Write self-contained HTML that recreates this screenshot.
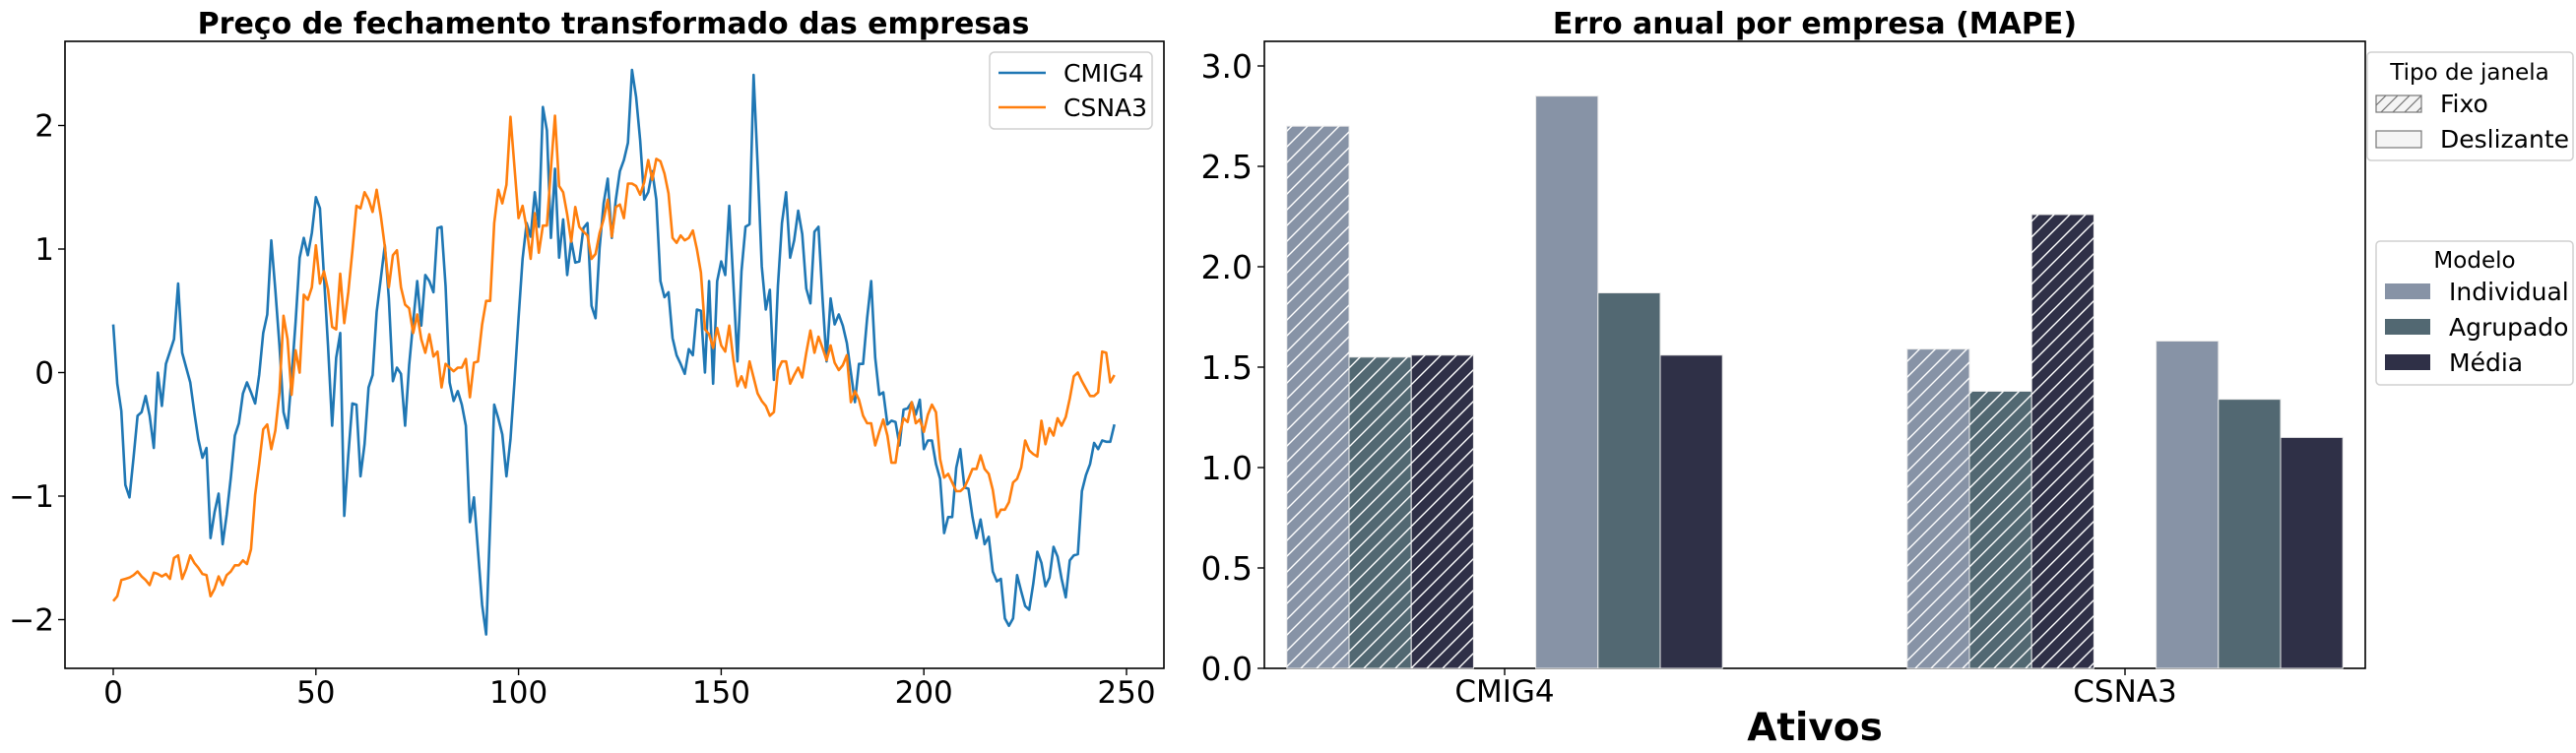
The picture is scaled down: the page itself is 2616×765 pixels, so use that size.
<!DOCTYPE html>
<html><head><meta charset="utf-8"><style>
html,body{margin:0;padding:0;background:#fff;}
svg{display:block;font-family:"DejaVu Sans","Liberation Sans",sans-serif;}
</style></head><body>
<svg id="chart" width="2616" height="765" viewBox="0 0 2616 765" xmlns="http://www.w3.org/2000/svg">
<defs>
<pattern id="hatch" patternUnits="userSpaceOnUse" width="16" height="16">
<path d="M-4,4 L4,-4 M0,16 L16,0 M12,20 L20,12" stroke="#ffffff" stroke-width="1.4"/>
</pattern>
<pattern id="hatchLeg" patternUnits="userSpaceOnUse" width="12" height="12">
<path d="M-3,3 L3,-3 M0,12 L12,0 M9,15 L15,9" stroke="#777" stroke-width="1.2"/>
</pattern>
</defs>
<g id="left"></g>
<g id="right"></g>
</svg>
<script>
const cmig4Values = [0.39,-0.09,-0.31,-0.91,-1.01,-0.69,-0.35,-0.32,-0.19,-0.35,-0.61,0,-0.27,0.07,0.17,0.27,0.72,0.16,0.04,-0.08,-0.32,-0.54,-0.69,-0.61,-1.34,-1.13,-0.98,-1.39,-1.15,-0.85,-0.51,-0.41,-0.17,-0.08,-0.16,-0.25,-0.02,0.32,0.47,1.07,0.67,0.22,-0.32,-0.45,-0.04,0.41,0.93,1.09,0.95,1.13,1.42,1.33,0.78,0.22,-0.43,0.12,0.32,-1.16,-0.67,-0.25,-0.26,-0.84,-0.58,
-0.12,-0.02,0.49,0.76,1.03,0.60,-0.07,0.04,-0.01,-0.43,0.06,0.41,0.74,0.38,0.79,0.74,0.65,1.17,1.18,0.70,-0.08,-0.23,-0.15,-0.26,-0.43,-1.21,-1.01,-1.44,-1.88,-2.12,-1.21,-0.26,-0.37,-0.50,-0.84,-0.54,-0.07,0.44,0.92,1.21,1.10,1.46,1.18,2.15,1.96,1.09,1.65,0.93,1.24,0.79,1.07,0.89,0.90,1.17,1.21,0.54,0.44,1.01,1.37,1.57,1.09,1.40,
1.63,1.72,1.86,2.45,2.23,1.88,1.40,1.46,1.63,1.40,0.74,0.61,0.65,0.28,0.14,0.07,-0.01,0.19,0.14,0.51,0.50,0,0.74,-0.09,0.74,0.90,0.79,1.35,0.73,0.09,0.82,1.18,1.20,2.41,1.68,0.86,0.51,0.67,-0.06,0.70,1.21,1.46,0.93,1.07,1.31,1.12,0.68,0.56,1.14,1.18,0.60,0.09,0.60,0.39,0.47,0.38,0.24,0,-0.24,0.07,0.07,0.44,0.74,
0.12,-0.18,-0.16,-0.42,-0.39,-0.40,-0.59,-0.30,-0.29,-0.24,-0.34,-0.22,-0.62,-0.55,-0.55,-0.74,-0.86,-1.30,-1.17,-1.17,-0.77,-0.62,-0.93,-0.94,-1.17,-1.34,-1.19,-1.39,-1.33,-1.61,-1.69,-1.67,-1.99,-2.05,-1.99,-1.64,-1.77,-1.89,-1.92,-1.71,-1.45,-1.54,-1.73,-1.66,-1.41,-1.49,-1.67,-1.82,-1.52,-1.48,-1.47,-0.96,-0.83,-0.74,-0.57,-0.62,-0.55,-0.56,-0.56,-0.42];
const csna3Values = [-1.85,-1.81,-1.68,-1.67,-1.66,-1.64,-1.61,-1.65,-1.68,-1.72,-1.62,-1.63,-1.65,-1.63,-1.67,-1.50,-1.48,-1.67,-1.59,-1.48,-1.54,-1.58,-1.63,-1.64,-1.81,-1.75,-1.65,-1.72,-1.64,-1.61,-1.56,-1.56,-1.52,-1.55,-1.43,-0.99,-0.74,-0.46,-0.42,-0.62,-0.47,-0.16,0.46,0.27,-0.18,0.18,0,0.63,0.59,0.69,1.03,0.72,0.82,0.67,0.37,0.35,0.80,0.40,0.65,0.98,1.35,1.33,1.46,
1.40,1.30,1.48,1.27,1.02,0.69,0.95,0.99,0.69,0.55,0.52,0.32,0.47,0.27,0.16,0.31,0.13,0.17,-0.12,0.07,0.04,0.01,0.04,0.04,0.11,-0.20,0.08,0.09,0.39,0.58,0.58,1.21,1.48,1.37,1.52,2.07,1.66,1.25,1.35,1.17,0.92,1.29,0.97,1.19,1.19,1.65,2.08,1.51,1.46,1.28,1.06,1.34,1.18,1.14,1.11,0.92,0.96,1.13,1.24,1.40,1.10,1.34,
1.36,1.25,1.53,1.53,1.51,1.44,1.54,1.72,1.56,1.73,1.71,1.61,1.45,1.09,1.05,1.11,1.07,1.09,1.15,1.00,0.81,0.35,0.31,0.20,0.36,0.22,0.17,0.38,0.11,-0.11,-0.03,-0.12,0.09,-0.04,-0.17,-0.23,-0.27,-0.35,-0.32,0.02,0.09,0.09,-0.09,-0.02,0.04,-0.04,0.16,0.34,0.16,0.29,0.20,0.10,0.22,0.08,0.02,0.06,0.14,-0.24,-0.15,-0.22,-0.35,-0.41,-0.41,
-0.59,-0.48,-0.38,-0.51,-0.73,-0.73,-0.50,-0.37,-0.40,-0.24,-0.41,-0.38,-0.48,-0.34,-0.26,-0.32,-0.70,-0.85,-0.82,-0.89,-0.96,-0.96,-0.93,-0.86,-0.78,-0.78,-0.67,-0.78,-0.82,-0.95,-1.17,-1.11,-1.11,-1.05,-0.89,-0.86,-0.77,-0.55,-0.63,-0.66,-0.68,-0.39,-0.58,-0.45,-0.51,-0.37,-0.43,-0.36,-0.21,-0.03,0,-0.07,-0.13,-0.19,-0.19,-0.16,0.17,0.16,-0.08,-0.02];
const leftXTicks = [0,50,100,150,200,250];
const leftYTicks = [-2,-1,0,1,2];
const leftYTickLabels = ["\u22122","\u22121","0","1","2"];
const seriesNames = ["CMIG4","CSNA3"];

const barCategories = ["CMIG4","CSNA3"];
const modelNames = ["Individual","Agrupado","Média"];
const windowNames = ["Fixo","Deslizante"];
const fixoValues = [[2.70,1.55,1.56],[1.59,1.38,2.26]];
const deslizanteValues = [[2.85,1.87,1.56],[1.63,1.34,1.15]];
const rightYTicks = [0,0.5,1,1.5,2,2.5,3];
const rightYTickLabels = ["0.0","0.5","1.0","1.5","2.0","2.5","3.0"];

const NS="http://www.w3.org/2000/svg";
function mk(parent,tag,attrs,text){const e=document.createElementNS(NS,tag);for(const k in attrs)e.setAttribute(k,attrs[k]);if(text!==undefined)e.textContent=text;parent.appendChild(e);return e;}

// ---------- Left chart ----------
const L=document.getElementById('left');
const lx=i=>115+i*(1144-115)/250;
const ly=v=>378.5-v*(378.5-127.5)/2;
const lf=mk(L,'rect',{x:66,y:42,width:1116,height:637,fill:'none',stroke:'#000','stroke-width':1.6});


const lt=mk(L,'text',{x:623,y:34,'text-anchor':'middle','font-size':30,'font-weight':'bold'},'Preço de fechamento transformado das empresas');


leftXTicks.forEach(t=>{
  const tk=mk(L,'line',{x1:lx(t),x2:lx(t),y1:679,y2:686,stroke:'#000','stroke-width':1.4});
  
  
  const tl=mk(L,'text',{x:lx(t),y:714,'text-anchor':'middle','font-size':31},String(t));
  
  
});
leftYTicks.forEach((t,k)=>{
  const tk=mk(L,'line',{x1:59,x2:66,y1:ly(t),y2:ly(t),stroke:'#000','stroke-width':1.4});
  
  
  const tl=mk(L,'text',{x:55,y:ly(t)+11,'text-anchor':'end','font-size':31},leftYTickLabels[k]);
  
  
});
const colors=['#1f77b4','#ff7f0e'];
[cmig4Values,csna3Values].forEach((arr,s)=>{
  const d=arr.map((v,i)=>(i?'L':'M')+lx(i).toFixed(1)+','+ly(v).toFixed(1)).join(' ');
  const p=mk(L,'path',{d:d,fill:'none',stroke:colors[s],'stroke-width':2.6,'stroke-linejoin':'round'});
  
  
});
const lg=mk(L,'g',{});


mk(lg,'rect',{x:1005,y:53,width:165,height:78,rx:5,fill:'#fff','fill-opacity':0.8,stroke:'#d0d0d0','stroke-width':1.5});
seriesNames.forEach((n,k)=>{
  const y=74+k*35;
  const e=mk(lg,'g',{});
  
  
  mk(e,'line',{x1:1014,x2:1062,y1:y,y2:y,stroke:colors[k],'stroke-width':2.6});
  mk(e,'text',{x:1080,y:y+9,'font-size':25},n);
});

// ---------- Right chart ----------
const R=document.getElementById('right');
const ry=v=>679-v*204;
const groupCenter=[1528,2158];
const bw=63.2;
const modelColors=['#8793a6','#526872','#2f3047'];
const rf=mk(R,'rect',{x:1284,y:42,width:1118,height:637,fill:'none',stroke:'#000','stroke-width':1.6});


const rt=mk(R,'text',{x:1843,y:34,'text-anchor':'middle','font-size':30,'font-weight':'bold'},'Erro anual por empresa (MAPE)');


rightYTicks.forEach((t,k)=>{
  const tk=mk(R,'line',{x1:1277,x2:1284,y1:ry(t),y2:ry(t),stroke:'#000','stroke-width':1.4});
  
  
  const tl=mk(R,'text',{x:1272,y:ry(t)+12,'text-anchor':'end','font-size':33},rightYTickLabels[k]);
  
  
});
barCategories.forEach((c,g)=>{
  const cx=groupCenter[g];
  const tk=mk(R,'line',{x1:cx,x2:cx,y1:679,y2:686,stroke:'#000','stroke-width':1.4});
  
  
  const tl=mk(R,'text',{x:cx,y:713,'text-anchor':'middle','font-size':31},c);
  
  
  [fixoValues,deslizanteValues].forEach((vals,w)=>{
    vals[g].forEach((v,m)=>{
      const slot=w*4+m;
      const x=cx-3.5*bw+slot*bw;
      const b=mk(R,'rect',{x:x,y:ry(v),width:bw,height:679-ry(v),fill:modelColors[m],stroke:'#e8e8e8','stroke-width':1});
      
      
      if(w===0){
        const h=mk(R,'rect',{x:x,y:ry(v),width:bw,height:679-ry(v),fill:'url(#hatch)'});
        
        
      }
    });
  });
});
const xt=mk(R,'text',{x:1843,y:752,'text-anchor':'middle','font-size':39,'font-weight':'bold'},'Ativos');



const lg1=mk(R,'g',{});


mk(lg1,'rect',{x:2404,y:53,width:209,height:110,rx:4,fill:'#fff',stroke:'#d0d0d0','stroke-width':1.5});
mk(lg1,'text',{x:2508,y:81,'text-anchor':'middle','font-size':23},'Tipo de janela');
windowNames.forEach((n,k)=>{
  const y=97+k*36;
  const e=mk(lg1,'g',{});
  
  
  mk(e,'rect',{x:2413,y:y,width:46,height:17,fill:'#f4f4f4',stroke:'#777','stroke-width':1.2});
  if(k===0) mk(e,'rect',{x:2413,y:y,width:46,height:17,fill:'url(#hatchLeg)'});
  mk(e,'text',{x:2478,y:y+17,'font-size':25},n);
});
const lg2=mk(R,'g',{});


mk(lg2,'rect',{x:2413,y:245,width:200,height:146,rx:4,fill:'#fff',stroke:'#d0d0d0','stroke-width':1.5});
mk(lg2,'text',{x:2513,y:272,'text-anchor':'middle','font-size':23},'Modelo');
modelNames.forEach((n,k)=>{
  const y=288+k*36;
  const e=mk(lg2,'g',{});
  
  
  mk(e,'rect',{x:2422,y:y,width:46,height:16,fill:modelColors[k]});
  mk(e,'text',{x:2487,y:y+17,'font-size':25},n);
});
</script>
</body></html>
